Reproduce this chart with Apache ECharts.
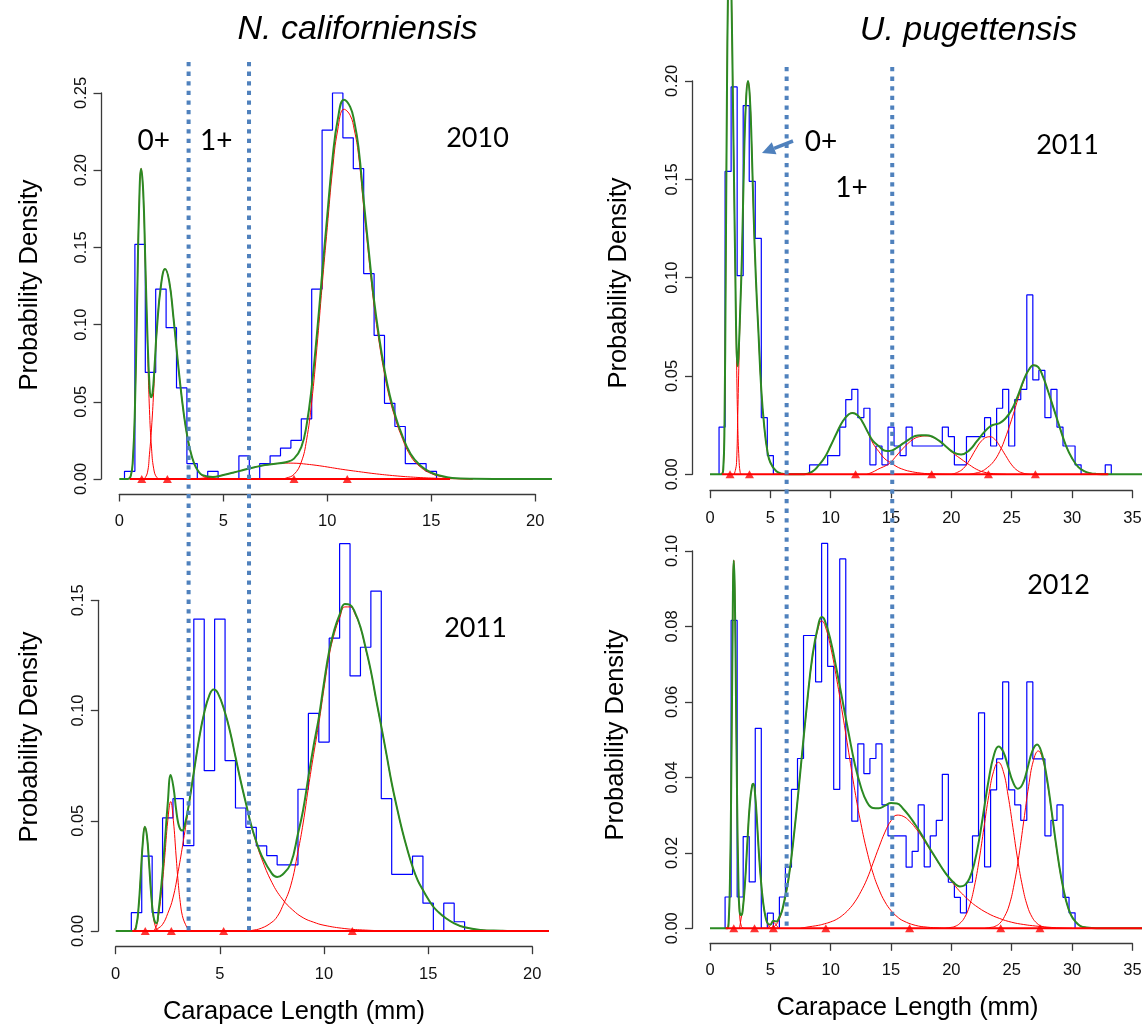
<!DOCTYPE html>
<html>
<head>
<meta charset="utf-8">
<script src="https://cdn.jsdelivr.net/npm/echarts@6/dist/echarts.min.js"></script>
<style>
  html, body { margin: 0; padding: 0; background: #ffffff; }
  #chart { width: 1142px; height: 1026px; }
</style>
</head>
<body>
<div id="chart"></div>
<script>
// ------------------------------------------------------------------
// Length-frequency data (probability density, 0.5 mm bins) and the
// fitted mixture curves for the two crab species.
// ------------------------------------------------------------------
const binWidth = 0.5;

// N. californiensis, 2010
const ncal2010BinStart = 0.25;
const ncal2010Density = [0.005, 0.152, 0.069, 0.123, 0.098, 0.059, 0.010, 0, 0.005, 0, 0, 0.015, 0, 0.010, 0.015,
  0.020, 0.025, 0.039, 0.123, 0.226, 0.250, 0.221, 0.201, 0.133, 0.093, 0.049, 0.034, 0.010, 0.010, 0.005];
const ncal2010Means = [1.08, 2.31, 8.4, 10.96];
const ncal2010Comp1 = [[0.4,0],[0.55,0.002],[0.65,0.012],[0.75,0.045],[0.85,0.11],[0.95,0.175],[1.05,0.201],[1.15,0.185],[1.25,0.14],[1.35,0.09],[1.45,0.045],[1.55,0.02],[1.65,0.007],[1.8,0.001],[2.0,0]];
const ncal2010Comp2 = [[1.2,0],[1.35,0.004],[1.45,0.016],[1.55,0.033],[1.65,0.056],[1.8,0.095],[2.0,0.125],[2.2,0.136],[2.4,0.128],[2.6,0.105],[2.8,0.078],[3.0,0.053],[3.2,0.033],[3.4,0.019],[3.6,0.01],[3.8,0.005],[4.0,0.002],[4.4,0]];
const ncal2010Comp3 = [[3.5,0],[4.0,0.0005],[4.5,0.0013],[5.0,0.0026],[5.5,0.0042],[6.0,0.006],[6.5,0.0076],[7.0,0.009],[7.5,0.0099],[8.0,0.0103],[8.5,0.0102],[9.0,0.0096],[9.5,0.0088],[10.0,0.0078],[10.5,0.0067],[11.0,0.0057],[11.5,0.0048],[12.0,0.0039],[12.5,0.0031],[13.0,0.0024],[13.5,0.0018],[14.0,0.0013],[14.5,0.0009],[15.0,0.0006],[16.0,0.0002],[17.0,0]];
const ncal2010Comp4 = [[7.8,0],[8.0,0.0005],[8.4,0.003],[8.75,0.011],[9.0,0.025],[9.25,0.05],[9.5,0.085],[9.75,0.125],[10.0,0.163],[10.25,0.2],[10.5,0.226],[10.8,0.2395],[11.1,0.2355],[11.3,0.226],[11.5,0.21],[11.75,0.176],[12.0,0.143],[12.25,0.112],[12.5,0.088],[12.75,0.068],[13.0,0.052],[13.25,0.04],[13.5,0.03],[14.0,0.015],[14.5,0.0075],[15.0,0.0035],[15.5,0.0015],[16.0,0.0005],[17.0,0]];
const ncal2010Total = [[0,0],[0.4,0],[0.55,0.002],[0.65,0.012],[0.75,0.045],[0.85,0.11],[0.95,0.175],[1.05,0.201],[1.15,0.186],[1.25,0.141],[1.35,0.094],[1.45,0.061],[1.52,0.053],[1.6,0.056],[1.7,0.074],[1.8,0.096],[2.0,0.125],[2.2,0.136],[2.4,0.128],[2.6,0.105],[2.8,0.078],[3.0,0.053],[3.2,0.033],[3.4,0.019],[3.6,0.01],[3.8,0.005],[4.0,0.0025],[4.5,0.0013],[5.0,0.0026],[5.5,0.0042],[6.0,0.006],[6.5,0.0076],[7.0,0.009],[7.5,0.0099],[8.0,0.0108],[8.4,0.0132],[8.75,0.0207],[9.0,0.0346],[9.25,0.0595],[9.5,0.0937],[9.75,0.1327],[10.0,0.1708],[10.25,0.2074],[10.5,0.2327],[10.8,0.2457],[11.1,0.241],[11.3,0.2313],[11.5,0.2148],[11.75,0.1804],[12.0,0.1469],[12.25,0.1155],[12.5,0.0911],[12.75,0.0707],[13.0,0.0544],[13.25,0.042],[13.5,0.0318],[14.0,0.0163],[14.5,0.0084],[15.0,0.0041],[15.5,0.0019],[16.0,0.0007],[17.0,0.0001],[18.0,0],[20.8,0]];

// N. californiensis, 2011
const ncal2011BinStart = 0.75;
const ncal2011Density = [0.0083, 0.034, 0.0083, 0.0513, 0.060, 0.0387, 0.1415, 0.0727, 0.1415, 0.0773, 0.0558, 0.047,
  0.0386, 0.0342, 0.030, 0.030, 0.0643, 0.0987, 0.0857, 0.1328, 0.1757, 0.1157, 0.1287, 0.1542, 0.060, 0.0257,
  0.0257, 0.034, 0.0126, 0, 0.0126, 0.0042];
const ncal2011Means = [1.42, 2.67, 5.18, 11.36];
const ncal2011Comp1 = [[0.85,0],[1.0,0.003],[1.1,0.011],[1.2,0.025],[1.3,0.04],[1.4,0.0473],[1.5,0.043],[1.6,0.031],[1.7,0.017],[1.8,0.007],[1.9,0.0023],[2.0,0.0006],[2.2,0]];
const ncal2011Comp2 = [[1.8,0],[1.95,0.002],[2.05,0.0065],[2.2,0.018],[2.35,0.033],[2.5,0.05],[2.64,0.0587],[2.77,0.05],[2.9,0.034],[3.0,0.022],[3.1,0.013],[3.2,0.007],[3.35,0.003],[3.5,0.0008],[3.7,0]];
const ncal2011Comp3 = [[1.8,0],[2.0,0.001],[2.25,0.003],[2.5,0.008],[2.75,0.015],[3.0,0.027],[3.25,0.041],[3.5,0.056],[3.75,0.072],[4.0,0.087],[4.25,0.099],[4.5,0.107],[4.7,0.1095],[4.9,0.108],[5.25,0.099],[5.5,0.09],[5.75,0.079],[6.0,0.068],[6.25,0.058],[6.5,0.048],[6.75,0.04],[7.0,0.033],[7.5,0.022],[8.0,0.0145],[8.5,0.0095],[9.0,0.006],[9.5,0.004],[10.0,0.0026],[11.0,0.0011],[12.0,0.0004],[13.0,0.0001],[14.0,0]];
const ncal2011Comp4 = [[6.3,0],[6.5,0.0002],[7.0,0.0013],[7.5,0.004],[7.75,0.0065],[8.0,0.011],[8.4,0.0205],[8.75,0.036],[9.0,0.049],[9.25,0.065],[9.5,0.08],[9.75,0.094],[10.0,0.11],[10.25,0.125],[10.5,0.135],[10.75,0.142],[11.0,0.147],[11.25,0.147],[11.5,0.1435],[11.75,0.1375],[12.0,0.128],[12.25,0.1177],[12.5,0.105],[12.75,0.0927],[13.0,0.08],[13.25,0.067],[13.5,0.056],[13.75,0.0458],[14.0,0.037],[14.25,0.0292],[14.5,0.023],[14.75,0.0186],[15.0,0.0145],[15.25,0.011],[15.5,0.0085],[15.75,0.0065],[16.25,0.0035],[16.75,0.0017],[17.5,0.0005],[18.5,0.0001],[19.0,0]];
const ncal2011Total = [[0,0],[0.85,0],[1.0,0.003],[1.1,0.011],[1.2,0.025],[1.3,0.04],[1.4,0.0473],[1.5,0.043],[1.6,0.031],[1.7,0.017],[1.8,0.0075],[1.9,0.0038],[1.97,0.0036],[2.05,0.0085],[2.2,0.0215],[2.35,0.039],[2.5,0.058],[2.64,0.0708],[2.77,0.0654],[2.9,0.0552],[3.0,0.049],[3.1,0.0462],[3.2,0.0456],[3.35,0.0495],[3.5,0.0568],[3.75,0.072],[4.0,0.087],[4.25,0.099],[4.5,0.107],[4.7,0.1095],[4.9,0.108],[5.25,0.099],[5.5,0.09],[5.75,0.079],[6.0,0.068],[6.25,0.058],[6.5,0.0482],[6.75,0.0406],[7.0,0.0343],[7.5,0.026],[7.75,0.0245],[8.0,0.0255],[8.4,0.0305],[8.75,0.0441],[9.0,0.055],[9.25,0.0698],[9.5,0.084],[9.75,0.0967],[10.0,0.1126],[10.25,0.127],[10.5,0.1367],[10.75,0.1435],[11.0,0.1483],[11.25,0.1479],[11.5,0.1442],[11.75,0.1379],[12.0,0.1284],[12.25,0.118],[12.5,0.1052],[12.75,0.0928],[13.0,0.0801],[13.25,0.0671],[13.5,0.056],[13.75,0.0458],[14.0,0.037],[14.25,0.0292],[14.5,0.023],[14.75,0.0186],[15.0,0.0145],[15.25,0.011],[15.5,0.0085],[15.75,0.0065],[16.25,0.0035],[16.75,0.0017],[17.5,0.0005],[18.5,0.0001],[19.0,0],[20.8,0]];

// U. pugettensis, 2011
const upug2011BinStart = 0.75;
const upug2011Density = [0.024, 0.154, 0.197, 0.101, 0.1875, 0.149, 0.12, 0.0288, 0.0095, 0, 0, 0, 0, 0, 0,
  0.0048, 0.0048, 0.0048, 0.0095, 0.0095, 0.024, 0.038, 0.0432, 0.0288, 0.0336, 0.0048, 0.0144, 0.0048, 0.024,
  0.0144, 0.0095, 0.024, 0.0144, 0.0144, 0.0144, 0.0144, 0.0144, 0.024, 0.0192, 0.0048, 0.0048, 0.0192, 0.0192,
  0.0192, 0.0288, 0.0144, 0.0336, 0.0432, 0.0144, 0.038, 0.0432, 0.0912, 0.048, 0.0528, 0.0288, 0.0432, 0.024,
  0.0144, 0.0144, 0.0048, 0, 0, 0, 0, 0.0048];
const upug2011Means = [1.66, 3.27, 12.06, 18.37, 23.07, 26.96];
const upug2011Comp1 = [[0.95,0],[1.1,0.003],[1.2,0.025],[1.3,0.1],[1.4,0.19],[1.5,0.25],[1.6,0.275],[1.7,0.265],[1.8,0.235],[1.9,0.19],[2.0,0.145],[2.1,0.1],[2.2,0.058],[2.3,0.025],[2.4,0.008],[2.5,0.001],[2.6,0]];
const upug2011Comp2 = [[2.0,0],[2.1,0.002],[2.2,0.006],[2.3,0.03],[2.4,0.058],[2.5,0.082],[2.65,0.112],[2.84,0.165],[3.0,0.192],[3.15,0.2],[3.3,0.192],[3.45,0.168],[3.6,0.135],[3.8,0.1],[4.0,0.074],[4.25,0.043],[4.5,0.024],[4.75,0.012],[5.0,0.006],[5.5,0.0015],[6.0,0.0003],[6.5,0]];
const upug2011Comp3 = [[7.8,0],[8.5,0.0015],[9.0,0.0045],[9.5,0.0085],[10.0,0.0145],[10.5,0.021],[11.0,0.027],[11.5,0.0305],[11.8,0.0312],[12.2,0.0302],[12.6,0.027],[13.1,0.021],[13.5,0.0158],[14.0,0.0115],[14.5,0.0078],[14.9,0.0062],[15.5,0.0038],[16.0,0.0025],[16.5,0.0016],[17.5,0.0006],[18.5,0.0002],[20.0,0]];
const upug2011Comp4 = [[13.0,0],[13.5,0.0012],[14.0,0.0028],[14.5,0.0042],[14.9,0.0057],[15.5,0.0098],[16.0,0.0132],[16.5,0.0162],[17.0,0.0184],[17.5,0.0193],[17.9,0.0195],[18.4,0.019],[19.0,0.0168],[19.6,0.0138],[20.2,0.0105],[20.8,0.0078],[21.5,0.0048],[22.1,0.0025],[22.7,0.0011],[23.5,0.0003],[24.5,0]];
const upug2011Comp5 = [[20.0,0],[20.5,0.001],[21.0,0.003],[21.5,0.0072],[22.0,0.0125],[22.5,0.017],[23.0,0.019],[23.2,0.0191],[23.6,0.0178],[24.0,0.0145],[24.5,0.0095],[25.0,0.0048],[25.5,0.0018],[26.0,0.0005],[26.5,0]];
const upug2011Comp6 = [[21.5,0],[22.0,0.0006],[22.5,0.0015],[23.0,0.0035],[23.5,0.0065],[24.0,0.0115],[24.5,0.019],[25.0,0.028],[25.5,0.038],[26.0,0.0475],[26.4,0.053],[26.8,0.0555],[27.2,0.0545],[27.6,0.0495],[28.0,0.0425],[28.5,0.033],[29.0,0.0235],[29.5,0.0145],[30.0,0.0082],[30.5,0.0038],[31.0,0.0016],[31.5,0.0006],[32.0,0.0002],[33.0,0]];
const upug2011Total = [[0,0],[0.95,0],[1.1,0.003],[1.2,0.025],[1.3,0.1],[1.4,0.19],[1.5,0.25],[1.6,0.275],[1.7,0.265],[1.8,0.235],[1.9,0.19],[2.0,0.145],[2.1,0.102],[2.2,0.064],[2.3,0.055],[2.4,0.066],[2.5,0.083],[2.65,0.112],[2.84,0.165],[3.0,0.192],[3.15,0.2],[3.3,0.192],[3.45,0.168],[3.6,0.135],[3.8,0.1],[4.0,0.074],[4.25,0.043],[4.5,0.024],[4.75,0.012],[5.0,0.006],[5.5,0.0015],[6.0,0.0003],[6.5,0],[7.8,0],[8.5,0.0015],[9.0,0.0045],[9.5,0.0085],[10.0,0.0145],[10.5,0.021],[11.0,0.027],[11.5,0.0305],[11.8,0.0312],[12.2,0.0302],[12.6,0.027],[13.1,0.0212],[13.5,0.017],[14.0,0.0143],[14.5,0.012],[14.9,0.0119],[15.5,0.0136],[16.0,0.0157],[16.5,0.0178],[17.0,0.0195],[17.5,0.0199],[17.9,0.0199],[18.4,0.0192],[19.0,0.017],[19.6,0.0139],[20.2,0.011],[20.8,0.0101],[21.5,0.0123],[22.1,0.0167],[22.7,0.0213],[23.2,0.0243],[23.6,0.0254],[24.0,0.026],[24.5,0.0285],[25.0,0.0328],[25.5,0.0398],[26.0,0.048],[26.4,0.053],[26.8,0.0555],[27.2,0.0545],[27.6,0.0495],[28.0,0.0425],[28.5,0.033],[29.0,0.0235],[29.5,0.0145],[30.0,0.0082],[30.5,0.0038],[31.0,0.0016],[31.5,0.0006],[32.0,0.0002],[33.0,0],[36.5,0]];

// U. pugettensis, 2012
const upug2012BinStart = 1.25;
const upug2012Density = [0.0083, 0.0816, 0.0083, 0.0243, 0.0123, 0.053, 0, 0.004, 0, 0.0083, 0.0162, 0.0368, 0.045,
  0.0776, 0.0776, 0.0653, 0.102, 0.0694, 0.0368, 0.0979, 0.045, 0.0284, 0.0489, 0.041, 0.045, 0.0489, 0.0327,
  0.0245, 0.0245, 0.0245, 0.0162, 0.0204, 0.0327, 0.0163, 0.0245, 0.0286, 0.0408, 0.0122, 0.0082, 0.0041, 0.0122,
  0.0245, 0.0571, 0.0163, 0.0367, 0.0449, 0.0653, 0.0367, 0.0327, 0.0286, 0.0653, 0.0449, 0.0449, 0.0245, 0.0286,
  0.0327, 0.0082, 0.0041];
const upug2012Means = [1.97, 3.69, 5.25, 9.6, 16.54, 24.09, 27.34];
const upug2012Comp1 = [[1.45,0],[1.55,0.002],[1.65,0.012],[1.75,0.035],[1.85,0.07],[1.97,0.0975],[2.05,0.09],[2.15,0.062],[2.25,0.033],[2.35,0.013],[2.45,0.004],[2.6,0.0005],[2.8,0]];
const upug2012Comp2 = [[2.45,0],[2.6,0.003],[2.7,0.0045],[2.9,0.012],[3.1,0.023],[3.3,0.033],[3.5,0.038],[3.6,0.0383],[3.75,0.035],[3.9,0.028],[4.05,0.02],[4.2,0.0135],[4.4,0.007],[4.6,0.003],[4.8,0.001],[5.0,0.0002],[5.2,0]];
const upug2012Comp3 = [[4.8,0],[5.0,0.0008],[5.25,0.0016],[5.5,0.0008],[5.7,0]];
const upug2012Comp4 = [[5.0,0],[5.5,0.001],[6.0,0.005],[6.5,0.013],[7.0,0.026],[7.5,0.042],[8.0,0.058],[8.5,0.072],[9.0,0.080],[9.25,0.0815],[9.5,0.0805],[10.0,0.0745],[10.5,0.066],[11.0,0.0565],[11.5,0.0465],[12.0,0.0365],[12.5,0.0278],[13.0,0.0205],[13.5,0.0147],[14.0,0.0103],[14.5,0.007],[15.0,0.0047],[15.5,0.0031],[16.0,0.002],[17.0,0.0008],[18.0,0.0003],[19.0,0.0001],[20.0,0]];
const upug2012Comp5 = [[7.5,0],[8.0,0.0003],[9.0,0.0008],[9.5,0.0012],[10.0,0.0017],[10.5,0.0024],[11.0,0.0035],[11.5,0.005],[12.0,0.007],[12.5,0.0097],[13.0,0.013],[13.5,0.0172],[14.0,0.0215],[14.5,0.0255],[15.0,0.0285],[15.5,0.030],[16.0,0.0297],[16.5,0.0285],[17.0,0.0267],[17.5,0.0245],[18.0,0.022],[18.5,0.0195],[19.0,0.017],[19.5,0.0146],[20.0,0.0125],[20.5,0.0105],[21.0,0.0088],[21.5,0.0073],[22.0,0.006],[23.0,0.004],[24.0,0.0026],[25.0,0.0016],[26.0,0.001],[27.0,0.0006],[28.0,0.0003],[29.0,0.0001],[30.0,0]];
const upug2012Comp6 = [[19.5,0],[19.9,0.0002],[20.3,0.0005],[20.7,0.0013],[21.1,0.0029],[21.5,0.0059],[21.9,0.011],[22.3,0.0181],[22.7,0.0267],[23.1,0.0352],[23.5,0.0416],[23.9,0.044],[24.3,0.0416],[24.7,0.0352],[25.1,0.0267],[25.5,0.0181],[25.9,0.011],[26.3,0.0059],[26.7,0.0029],[27.1,0.0013],[27.5,0.0005],[27.9,0.0002],[28.5,0]];
const upug2012Comp7 = [[22.8,0],[23.2,0.0002],[23.6,0.0005],[24.0,0.0013],[24.4,0.0031],[24.8,0.0062],[25.2,0.0117],[25.6,0.0193],[26.0,0.0285],[26.4,0.0376],[26.8,0.0445],[27.2,0.047],[27.6,0.0445],[28.0,0.0376],[28.4,0.0285],[28.8,0.0193],[29.2,0.0117],[29.6,0.0062],[30.0,0.0031],[30.4,0.0013],[30.8,0.0005],[31.2,0.0002],[31.8,0]];
const upug2012Total = [[0,0],[1.45,0],[1.55,0.002],[1.65,0.012],[1.75,0.035],[1.85,0.07],[1.97,0.0975],[2.05,0.09],[2.15,0.062],[2.25,0.033],[2.35,0.013],[2.45,0.0045],[2.6,0.0035],[2.7,0.0045],[2.9,0.012],[3.1,0.023],[3.3,0.033],[3.5,0.038],[3.6,0.0383],[3.75,0.035],[3.9,0.028],[4.05,0.02],[4.2,0.0135],[4.4,0.007],[4.6,0.003],[4.8,0.0012],[5.0,0.001],[5.25,0.002],[5.5,0.0018],[5.75,0.003],[6.0,0.005],[6.5,0.013],[7.0,0.026],[7.5,0.042],[8.0,0.0583],[8.5,0.0725],[9.0,0.0808],[9.25,0.0825],[9.5,0.0817],[10.0,0.0762],[10.5,0.0684],[11.0,0.06],[11.5,0.0515],[12.0,0.0435],[12.5,0.0375],[13.0,0.0335],[13.5,0.0319],[14.0,0.0318],[14.5,0.0325],[15.0,0.0332],[15.5,0.0331],[16.0,0.0317],[16.5,0.0298],[17.0,0.0275],[17.5,0.025],[18.0,0.0223],[18.5,0.0197],[19.0,0.0171],[19.5,0.0147],[19.9,0.0131],[20.3,0.0118],[20.7,0.0111],[21.1,0.0114],[21.5,0.0132],[21.9,0.0172],[22.3,0.0235],[22.7,0.0315],[23.1,0.0395],[23.5,0.0456],[23.9,0.0482],[24.3,0.0468],[24.7,0.0428],[25.1,0.0388],[25.5,0.037],[25.9,0.0382],[26.3,0.0423],[26.7,0.0469],[27.1,0.0487],[27.5,0.0463],[27.9,0.0401],[28.3,0.0312],[28.7,0.0217],[29.1,0.0135],[29.5,0.0074],[29.9,0.0036],[30.3,0.0017],[30.7,0.0006],[31.2,0.0002],[32.0,0],[36.5,0]];

// Age-class cut-offs (carapace length, mm) marked with dotted lines
const ncalCutoffs = [3.5, 6.4];
const upugCutoffs = [6.35, 15.1];

// ------------------------------------------------------------------
// Layout of the four panels (pixel frame of each R-style plot)
// ------------------------------------------------------------------
const panels = [
  { density: ncal2010Density, binStart: ncal2010BinStart, means: ncal2010Means, total: ncal2010Total,
    comps: [ncal2010Comp1, ncal2010Comp2, ncal2010Comp3, ncal2010Comp4], baseline: [0.5, 15.9],
    frame: { axisX: 101, axisY: 494, x0: 119.3, x1: 535.3, y0: 479, y1: 93, right: 600, top: 55 },
    xTick: { min: 0, max: 20, step: 5 }, yTick: { min: 0, max: 0.25, step: 0.05 } },
  { density: ncal2011Density, binStart: ncal2011BinStart, means: ncal2011Means, total: ncal2011Total,
    comps: [ncal2011Comp1, ncal2011Comp2, ncal2011Comp3, ncal2011Comp4], baseline: [0.8, 20.8],
    frame: { axisX: 98.3, axisY: 946.7, x0: 115.7, x1: 532.3, y0: 931, y1: 600.3, right: 600, top: 515 },
    xTick: { min: 0, max: 20, step: 5 }, yTick: { min: 0, max: 0.15, step: 0.05 } },
  { density: upug2011Density, binStart: upug2011BinStart, means: upug2011Means, total: upug2011Total,
    comps: [upug2011Comp1, upug2011Comp2, upug2011Comp3, upug2011Comp4, upug2011Comp5, upug2011Comp6], baseline: [1.0, 33.0],
    frame: { axisX: 692.5, axisY: 490.7, x0: 710, x1: 1132.4, y0: 474.3, y1: 81, right: 1142, top: 0 },
    xTick: { min: 0, max: 35, step: 5 }, yTick: { min: 0, max: 0.20, step: 0.05 } },
  { density: upug2012Density, binStart: upug2012BinStart, means: upug2012Means, total: upug2012Total,
    comps: [upug2012Comp1, upug2012Comp2, upug2012Comp3, upug2012Comp4, upug2012Comp5, upug2012Comp6, upug2012Comp7], baseline: [1.3, 36.5],
    frame: { axisX: 692.5, axisY: 943.3, x0: 710, x1: 1132.4, y0: 928.3, y1: 551, right: 1142, top: 515 },
    xTick: { min: 0, max: 35, step: 5 }, yTick: { min: 0, max: 0.10, step: 0.02 } }
];

const HIST_BLUE = '#0000ff';
const COMP_RED = '#ff0000';
const MIX_GREEN = '#2b8a23';
const CUT_BLUE = '#4f81bd';
const AXIS_GREY = '#3a3a3a';
const SANS = '"Liberation Sans", Arial, Helvetica, sans-serif';
const LABEL_FONT = 'Lato, "Open Sans", sans-serif';

// Outline of a histogram as a stepped path through the bin edges
function histogramPath(start, heights) {
  const pts = [[start, 0]];
  heights.forEach((h, i) => pts.push([start + i * binWidth, h]));
  const end = start + heights.length * binWidth;
  pts.push([end, heights[heights.length - 1]]);
  pts.push([end, 0]);
  return pts;
}

const grid = [], xAxis = [], yAxis = [], series = [];

// Plotting regions: hidden axes whose ranges follow the R user coordinates
panels.forEach((p, i) => {
  const f = p.frame;
  const sx = (f.x1 - f.x0) / (p.xTick.max - p.xTick.min);
  const sy = (f.y0 - f.y1) / (p.yTick.max - p.yTick.min);
  grid.push({ left: f.axisX, top: f.top, width: f.right - f.axisX, height: f.axisY - f.top,
              containLabel: false, outerBoundsMode: 'none' });
  xAxis.push({ type: 'value', gridIndex: i, show: false,
               min: p.xTick.min - (f.x0 - f.axisX) / sx, max: p.xTick.min + (f.right - f.x0) / sx });
  yAxis.push({ type: 'value', gridIndex: i, show: false,
               min: -(f.axisY - f.y0) / sy, max: (f.y0 - f.top) / sy });
});

// Visible axes spanning only the tick range, set off from the data as in base R graphics
panels.forEach((p, i) => {
  const f = p.frame;
  const g = panels.length + i;
  grid.push({ left: f.x0, top: f.y1, width: f.x1 - f.x0, height: f.y0 - f.y1,
              containLabel: false, outerBoundsMode: 'none' });
  const line = { show: true, onZero: false, lineStyle: { color: AXIS_GREY, width: 1.3 } };
  const tick = { show: true, inside: false, length: 7.5, lineStyle: { color: AXIS_GREY, width: 1.3 } };
  xAxis.push({ type: 'value', gridIndex: g, position: 'bottom', offset: f.axisY - f.y0,
               min: p.xTick.min, max: p.xTick.max, interval: p.xTick.step,
               axisLine: line, axisTick: tick, splitLine: { show: false },
               axisLabel: { margin: 19, fontSize: 16.5, fontFamily: SANS, color: '#111',
                            showMinLabel: true, showMaxLabel: true, hideOverlap: false,
                            formatter: v => String(v) } });
  yAxis.push({ type: 'value', gridIndex: g, position: 'left', offset: f.x0 - f.axisX,
               min: p.yTick.min, max: p.yTick.max, interval: p.yTick.step,
               axisLine: line, axisTick: tick, splitLine: { show: false },
               axisLabel: { rotate: 90, margin: 11.5, fontSize: 16.5, fontFamily: SANS, color: '#111',
                            showMinLabel: true, showMaxLabel: true, hideOverlap: false,
                            formatter: v => v.toFixed(2) } });
});

panels.forEach((p, i) => {
  const common = { xAxisIndex: i, yAxisIndex: i, symbol: 'none', silent: true, animation: false };
  series.push(Object.assign({ type: 'line', data: histogramPath(p.binStart, p.density), step: 'end',
    lineStyle: { color: HIST_BLUE, width: 1.2 }, z: 2 }, common));
  p.comps.forEach(c => series.push(Object.assign({ type: 'line', data: c, smooth: 0.45,
    lineStyle: { color: COMP_RED, width: 1 }, z: 3 }, common)));
  series.push(Object.assign({ type: 'line', data: p.total, smooth: 0.45,
    lineStyle: { color: MIX_GREEN, width: 2 }, z: 4 }, common));
  series.push(Object.assign({ type: 'line', data: [[p.baseline[0], 0], [p.baseline[1], 0]],
    lineStyle: { color: COMP_RED, width: 2 }, z: 5 }, common));
  series.push({ type: 'scatter', xAxisIndex: i, yAxisIndex: i, silent: true, animation: false,
    data: p.means.map(m => [m, 0]), symbol: 'triangle', symbolSize: [9, 8],
    itemStyle: { color: COMP_RED }, z: 6 });
});

const chart = echarts.init(document.getElementById('chart'), null, { renderer: 'canvas', width: 1142, height: 1026 });
chart.setOption({ animation: false, backgroundColor: '#ffffff', grid, xAxis, yAxis, series });

// ------------------------------------------------------------------
// Annotations: titles, axis titles, age-class labels, cut-off lines
// ------------------------------------------------------------------
function text(str, x, y, font, opts) {
  return Object.assign({ type: 'text', x, y, z: 100, silent: true,
    style: { text: str, font, fill: '#000', align: 'center', verticalAlign: 'middle' } }, opts || {});
}
const graphics = [
  text('N. californiensis', 357.5, 30, 'italic 34px ' + SANS),
  text('U. pugettensis', 968.5, 31, 'italic 34px ' + SANS),
  text('Probability Density', 30, 285, '25.5px ' + SANS, { rotation: Math.PI / 2 }),
  text('Probability Density', 30, 737, '25.5px ' + SANS, { rotation: Math.PI / 2 }),
  text('Probability Density', 619, 283, '25.5px ' + SANS, { rotation: Math.PI / 2 }),
  text('Probability Density', 615.5, 735, '25.5px ' + SANS, { rotation: Math.PI / 2 }),
  text('Carapace Length (mm)', 294, 1012, '25.5px ' + SANS),
  text('Carapace Length (mm)', 907.5, 1008, '25.5px ' + SANS),
  text('2010', 477.5, 138, '27px ' + LABEL_FONT),
  text('2011', 475.5, 628.5, '27px ' + LABEL_FONT),
  text('2011', 1067.5, 145, '27px ' + LABEL_FONT),
  text('2012', 1058.5, 585, '27px ' + LABEL_FONT),
  text('0+', 153.7, 141, '28px ' + LABEL_FONT),
  text('1+', 216.3, 141, '28px ' + LABEL_FONT),
  text('0+', 821, 141.7, '28px ' + LABEL_FONT),
  text('1+', 851.5, 187.5, '28px ' + LABEL_FONT)
];

// Dotted cut-off lines running through both panels of a species
function cutLine(value, axisIndex, yTop) {
  const x = chart.convertToPixel({ xAxisIndex: axisIndex }, value);
  const yBottom = chart.convertToPixel({ yAxisIndex: axisIndex }, 0) + 2;
  return { type: 'line', z: 90, silent: true,
    shape: { x1: x, y1: yTop, x2: x, y2: yBottom },
    style: { stroke: CUT_BLUE, lineWidth: 4, lineDash: [4.3, 5.3], lineCap: 'butt' } };
}
ncalCutoffs.forEach(v => graphics.push(cutLine(v, 1, 62)));
upugCutoffs.forEach(v => graphics.push(cutLine(v, 3, 67)));

// Arrow pointing the 0+ label at the second U. pugettensis mode
(function () {
  const tail = [793, 141], tip = [762, 153];
  const dx = tip[0] - tail[0], dy = tip[1] - tail[1];
  const len = Math.hypot(dx, dy), ux = dx / len, uy = dy / len;
  const headLen = 13, halfW = 6.5;
  const bx = tip[0] - ux * headLen, by = tip[1] - uy * headLen;
  graphics.push({ type: 'line', z: 95, silent: true,
    shape: { x1: tail[0], y1: tail[1], x2: bx, y2: by },
    style: { stroke: CUT_BLUE, lineWidth: 3.5 } });
  graphics.push({ type: 'polygon', z: 95, silent: true,
    shape: { points: [tip, [bx - uy * halfW, by + ux * halfW], [bx + uy * halfW, by - ux * halfW]] },
    style: { fill: CUT_BLUE } });
})();

chart.setOption({ graphic: graphics });
</script>
</body>
</html>
